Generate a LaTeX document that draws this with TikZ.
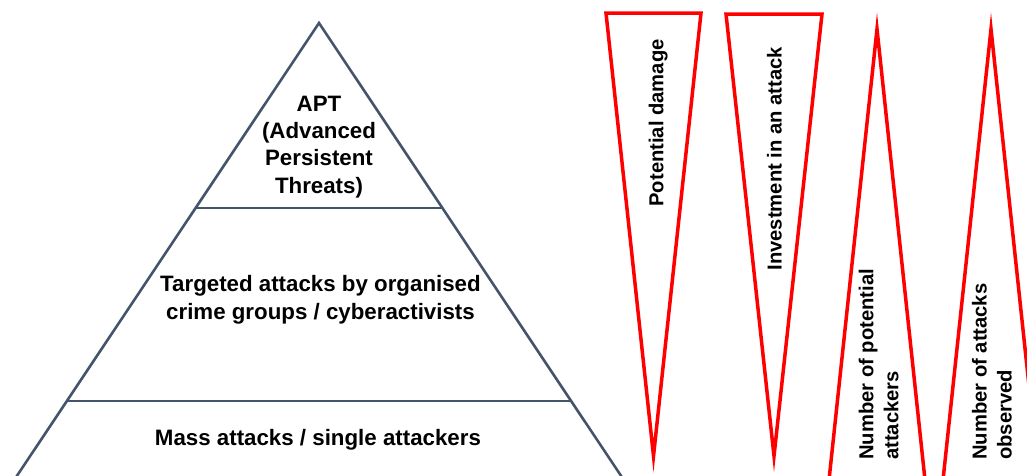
\documentclass[tikz,border=0pt]{standalone}
\usepackage{fontspec}
\setmainfont{Liberation Sans}
\definecolor{pyr}{RGB}{68,84,106}
\definecolor{wedge}{RGB}{255,0,0}
\begin{document}
\begin{tikzpicture}[x=1pt,y=-1pt,
  pyrline/.style={draw=pyr, line width=2.6pt},
  wedgeline/.style={draw=wedge, line width=3.5pt, line join=miter},
  pyrtext/.style={font=\fontsize{22.3}{27.3}\selectfont\bfseries, align=center, inner sep=0pt},
  wedgetext/.style={font=\fontsize{20.2}{25}\selectfont\bfseries, align=left, inner sep=0pt, rotate=90, anchor=base west}]
\useasboundingbox (0,0) rectangle (1027,475);
\clip (0,0) rectangle (1027,475);
% pyramid
\coordinate (apex) at (319,23);
\coordinate (bl) at (11.5,484);
\coordinate (br) at (626.5,484);
\coordinate (l1) at (195.6,208);
\coordinate (r1) at (442.4,208);
\coordinate (l2) at (67,401);
\coordinate (r2) at (571,401);
\draw[pyrline] (bl) -- (apex) -- (br);
\draw[pyrline] (l1) -- (r1);
\draw[pyrline] (l2) -- (r2);
\node[pyrtext, anchor=base] (apt) at (319,193) {APT\\(Advanced\\Persistent\\Threats)};
\node[pyrtext, anchor=base] (tgt) at (320.5,319) {Targeted attacks by organised\\crime groups / cyberactivists};
\node[pyrtext, anchor=base] (mass) at (318,445) {Mass attacks / single attackers};
% wedges
\draw[wedgeline] (606,13) -- (701,13) -- (653.5,456) -- cycle;
\draw[wedgeline] (726,14) -- (822,14) -- (774,456) -- cycle;
\draw[wedgeline] (877,29) -- (925,480) -- (829,480) -- cycle;
\draw[wedgeline] (991,29) -- (1039,480) -- (943,480) -- cycle;
\node[wedgetext] (dmg) at (663.3,206.7) {Potential damage};
\node[wedgetext] (inv) at (781.7,270.7) {Investment in an attack};
\node[wedgetext] (pot) at (898.3,460) {Number of potential\\attackers};
\node[wedgetext] (obs) at (1011.7,460) {Number of attacks\\observed};
\end{tikzpicture}
\end{document}
